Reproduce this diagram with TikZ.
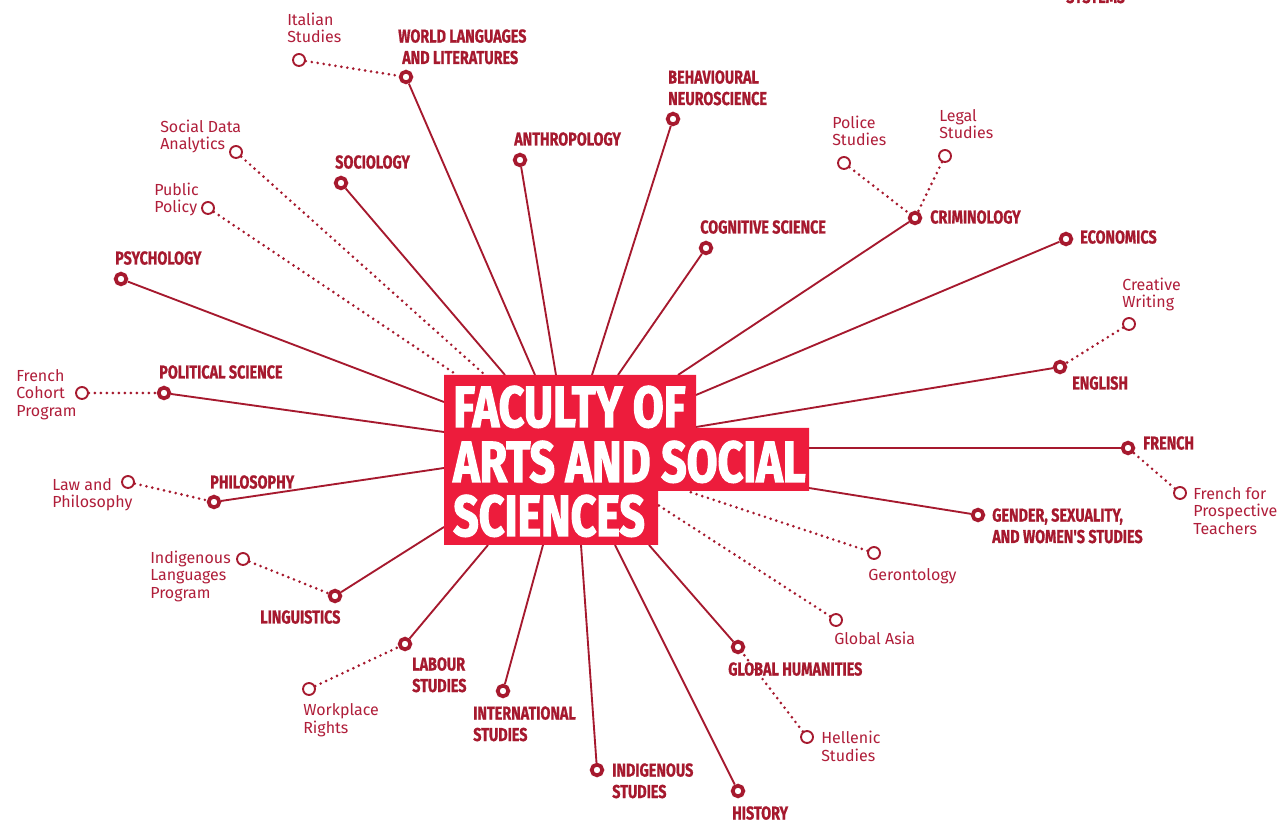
\documentclass[tikz,border=0pt]{standalone}
\usepackage{fontspec}
\setmainfont{Fira Sans}
\newfontfamily\condfont[FakeStretch=0.77,FakeBold=0.8]{Fira Sans}
\newfontfamily\headfont[FakeStretch=0.77,FakeBold=2]{Fira Sans}
\definecolor{dk}{HTML}{A6192E}
\definecolor{tx}{HTML}{B01E3A}
\definecolor{hubred}{HTML}{ED1C3C}
\begin{document}
\begin{tikzpicture}[x=0.75pt,y=-0.75pt,
  main/.style={circle,draw=dk,fill=white,line width=2.8pt,minimum size=8pt,inner sep=0pt},
  sub/.style={circle,draw=dk,fill=white,line width=1.4pt,minimum size=9pt,inner sep=0pt},
  link/.style={draw=dk,line width=1.4pt},
  dot/.style={draw=dk,line width=2.2pt,line cap=round,dash pattern=on 0pt off 4.5pt},
  big/.style={anchor=base west,inner sep=0pt,text=dk,font=\condfont\bfseries\fontsize{14}{16.1}\selectfont,align=left},
  small/.style={anchor=base west,inner sep=0pt,text=tx,font=\fontsize{12}{13.2}\selectfont,align=left},
  head/.style={anchor=base west,inner sep=0pt,text=white,font=\headfont\bfseries\fontsize{43.5}{41}\selectfont}]
\useasboundingbox (0,0) rectangle (1283,823);
\clip (0,0) rectangle (1283,823);
\fill[white] (0,0) rectangle (1283,823);

% hub edge coordinates
\coordinate (e-wl) at (535,375);
\coordinate (e-beh) at (592,375);
\coordinate (e-ant) at (556,375);
\coordinate (e-soc) at (505,375);
\coordinate (e-sda) at (485,375);
\coordinate (e-pp) at (457,375);
\coordinate (e-psy) at (444,402);
\coordinate (e-pol) at (444,432);
\coordinate (e-phi) at (444,468);
\coordinate (e-lin) at (444,527);
\coordinate (e-lab) at (488,545);
\coordinate (e-int) at (543,545);
\coordinate (e-ind) at (581,545);
\coordinate (e-his) at (615,545);
\coordinate (e-gh) at (649,545);
\coordinate (e-ga) at (658,505);
\coordinate (e-ger) at (687,491);
\coordinate (e-gen) at (809,488);
\coordinate (e-fr) at (809,448);
\coordinate (e-eng) at (696,427);
\coordinate (e-eco) at (696,395);
\coordinate (e-cri) at (678,375);
\coordinate (e-cog) at (618,375);

% main nodes
\node[main] (wl) at (406,77) {};
\node[main] (beh) at (673,119) {};
\node[main] (ant) at (520,160) {};
\node[main] (soc) at (341,183) {};
\node[main] (psy) at (121,279) {};
\node[main] (cog) at (706,248) {};
\node[main] (cri) at (915,218) {};
\node[main] (eco) at (1066,239) {};
\node[main] (eng) at (1060,367) {};
\node[main] (fr) at (1128,448) {};
\node[main] (gen) at (978,515) {};
\node[main] (gh) at (738,647) {};
\node[main] (his) at (738,791) {};
\node[main] (ind) at (597,770) {};
\node[main] (int) at (503,691) {};
\node[main] (lab) at (405,644) {};
\node[main] (lin) at (335,596) {};
\node[main] (phi) at (214,502) {};
\node[main] (pol) at (164,393) {};

% sub nodes
\node[sub] (ita) at (299,60) {};
\node[sub] (sda) at (236,152) {};
\node[sub] (pp) at (208,208) {};
\node[sub] (pol2) at (844,163) {};
\node[sub] (leg) at (945,156) {};
\node[sub] (cw) at (1129,324) {};
\node[sub] (ffp) at (1180,493) {};
\node[sub] (ger) at (874,553) {};
\node[sub] (ga) at (836,620) {};
\node[sub] (hel) at (807,737) {};
\node[sub] (wr) at (309,689) {};
\node[sub] (ilp) at (243,559) {};
\node[sub] (lap) at (128,482) {};
\node[sub] (fcp) at (82,393) {};

% connectors to hub
\foreach \n in {wl,beh,ant,soc,psy,cog,cri,eco,eng,fr,gen,gh,his,ind,int,lab,lin,phi,pol}
  \draw[link] (\n) -- (e-\n);
\foreach \n in {sda,pp,ger,ga}
  \draw[dot] (\n) -- (e-\n);

% sub connectors
\draw[dot] (ita) -- (wl);
\draw[dot] (pol2) -- (cri);
\draw[dot] (leg) -- (cri);
\draw[dot] (cw) -- (eng);
\draw[dot] (ffp) -- (fr);
\draw[dot] (hel) -- (gh);
\draw[dot] (wr) -- (lab);
\draw[dot] (ilp) -- (lin);
\draw[dot] (lap) -- (phi);
\draw[dot] (fcp) -- (pol);

% hub
\fill[hubred] (444,375) -- (696,375) -- (696,428) -- (809,428) -- (809,491) -- (658,491) -- (658,545) -- (444,545) -- cycle;
\node[head] (hub1) at (453,427) {FACULTY OF};
\node[head] (hub2) at (453,482) {ARTS AND SOCIAL};
\node[head] (hub3) at (453,536) {SCIENCES};

% main labels (anchor = baseline of last line)
\node[big] at (1066,3) {SYSTEMS};
\node[big] at (398,64) {WORLD LANGUAGES\\\hspace{3pt}AND LITERATURES};
\node[big] at (668,105) {BEHAVIOURAL\\NEUROSCIENCE};
\node[big] at (514,145.5) {ANTHROPOLOGY};
\node[big] at (335,168.5) {SOCIOLOGY};
\node[big] at (115,264.5) {PSYCHOLOGY};
\node[big] at (700,233.5) {COGNITIVE SCIENCE};
\node[big] at (930,223.5) {CRIMINOLOGY};
\node[big] at (1080,243.5) {ECONOMICS};
\node[big] at (1072,389.5) {ENGLISH};
\node[big] at (1143,449.5) {FRENCH};
\node[big] at (992,543) {GENDER, SEXUALITY,\\AND WOMEN'S STUDIES};
\node[big] at (728,675.5) {GLOBAL HUMANITIES};
\node[big] at (732,819.5) {HISTORY};
\node[big] at (612,798) {INDIGENOUS\\STUDIES};
\node[big] at (473,741) {INTERNATIONAL\\STUDIES};
\node[big] at (412,692) {LABOUR\\STUDIES};
\node[big] at (260,623.5) {LINGUISTICS};
\node[big] at (210,488.5) {PHILOSOPHY};
\node[big] at (159,378.5) {POLITICAL SCIENCE};

% small labels (anchor = baseline of last line)
\node[small] at (287,43) {Italian\\Studies};
\node[small] at (160,150) {Social Data\\Analytics};
\node[small] at (154,213) {Public\\Policy};
\node[small] at (832,146) {Police\\Studies};
\node[small] at (939,139) {Legal\\Studies};
\node[small] at (1122,308) {Creative\\Writing};
\node[small] at (1193,534.5) {French for\\Prospective\\Teachers};
\node[small] at (868,580.5) {Gerontology};
\node[small] at (834,644.5) {Global Asia};
\node[small] at (821,761) {Hellenic\\Studies};
\node[small] at (303,733) {Workplace\\Rights};
\node[small] at (150,598.5) {Indigenous\\Languages\\Program};
\node[small] at (52,508) {Law and\\Philosophy};
\node[small] at (16,416.5) {French\\Cohort\\Program};
\end{tikzpicture}
\end{document}
